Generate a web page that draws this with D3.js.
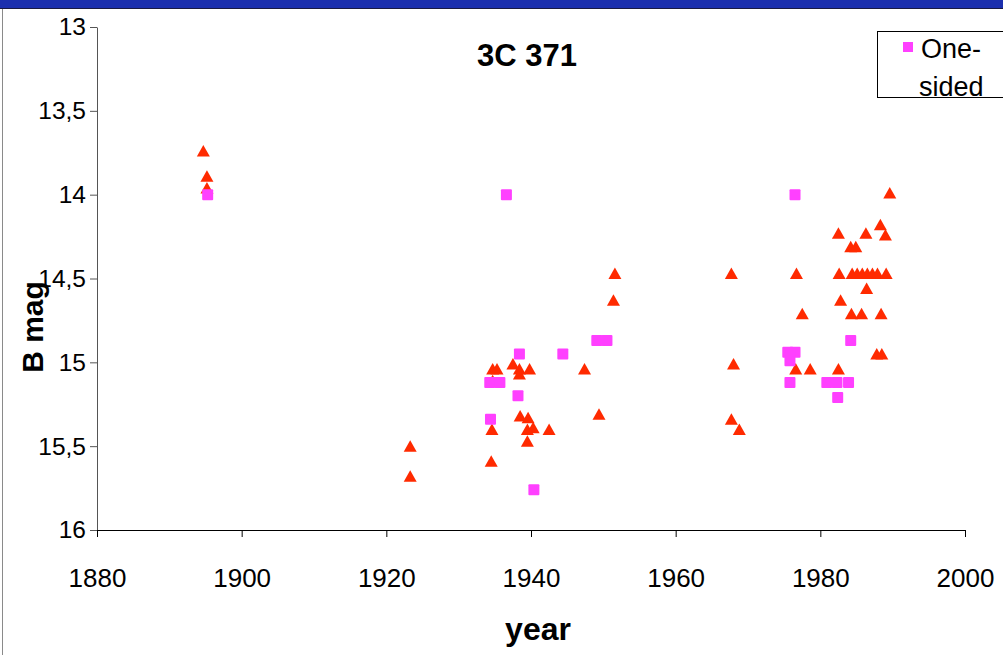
<!DOCTYPE html>
<html>
<head>
<meta charset="utf-8">
<script src="https://cdn.jsdelivr.net/npm/d3@7"></script>
<style>
    body { margin: 0; background: #fff; }
    text { font-family: "Liberation Sans", Arial, sans-serif; }
</style>
</head>
<body>
<div id="chart"></div>
<script>

// red triangles
let triYear = [1894.7, 1895.2, 1895.2, 1923.3, 1923.3, 1934.7, 1935.3, 1934.7, 1934.6, 1934.5,
    1937.5, 1938.4, 1938.4, 1939.8, 1938.5, 1939.6, 1940.3, 1939.5, 1942.5, 1939.5,
    1947.4, 1949.4, 1951.6, 1951.4, 1967.7, 1968.0, 1967.7, 1968.8, 1976.7, 1976.6,
    1977.5, 1978.6, 1982.5, 1982.6, 1982.8, 1982.5, 1984.2, 1984.9, 1984.3, 1985.7,
    1986.3, 1986.4, 1984.4, 1985.1, 1985.8, 1986.5, 1987.2, 1987.9, 1989.1, 1988.3,
    1989.0, 1988.4, 1987.8, 1988.5, 1989.6];
let triMag = [13.74, 13.89, 13.96, 15.50, 15.68, 15.04, 15.04, 15.11, 15.40, 15.59,
    15.01, 15.04, 15.07, 15.04, 15.32, 15.33, 15.39, 15.40, 15.40, 15.47,
    15.04, 15.31, 14.47, 14.63, 14.47, 15.01, 15.34, 15.40, 14.47, 15.04,
    14.71, 15.04, 14.23, 14.47, 14.63, 15.04, 14.31, 14.31, 14.71, 14.71,
    14.23, 14.56, 14.47, 14.47, 14.47, 14.47, 14.47, 14.47, 14.47, 14.18,
    14.24, 14.71, 14.95, 14.95, 13.99];

// magenta squares ("One-sided")
let sqYear = [1895.3, 1936.6, 1949.1, 1950.5, 1938.4, 1944.4, 1934.3, 1935.7, 1938.2, 1934.4,
    1940.4, 1976.5, 1975.5, 1976.5, 1975.8, 1975.8, 1980.9, 1982.3, 1983.9, 1982.4, 1984.2];
let sqMag = [14.0, 14.0, 14.87, 14.87, 14.95, 14.95, 15.12, 15.12, 15.20, 15.34,
    15.76, 14.0, 14.94, 14.94, 14.99, 15.12, 15.12, 15.12, 15.12, 15.21, 14.87];

let xTicks = [1880, 1900, 1920, 1940, 1960, 1980, 2000];
let yTicks = [13, 13.5, 14, 14.5, 15, 15.5, 16];

let legendLabel = ["One-", "sided"];


class ScatterVis {

    constructor(parentElement) {
        this.parentElement = parentElement;
        this.triData = triYear.map((d, i) => ({year: d, mag: triMag[i]}));
        this.sqData = sqYear.map((d, i) => ({year: d, mag: sqMag[i]}));
        this.initVis();
    }

    initVis() {
        let vis = this;

        vis.width = 1003;
        vis.height = 655;

        vis.svg = d3.select("#" + vis.parentElement).append("svg")
            .attr("width", vis.width)
            .attr("height", vis.height);

        // window frame
        vis.svg.append("rect")
            .attr("x", 0).attr("y", 0)
            .attr("width", vis.width).attr("height", 8)
            .attr("fill", "#1b2fae");
        vis.svg.append("line")
            .attr("x1", 0).attr("x2", vis.width)
            .attr("y1", 8.5).attr("y2", 8.5)
            .attr("stroke", "#1a1a40");
        vis.svg.append("line")
            .attr("x1", 2.5).attr("x2", 2.5)
            .attr("y1", 9).attr("y2", vis.height)
            .attr("stroke", "#8a8a8a");

        vis.xscale = d3.scaleLinear().domain([1880, 2000]).range([97, 965]);
        vis.yscale = d3.scaleLinear().domain([13, 16]).range([27, 530]);

        vis.xAxis = d3.axisBottom(vis.xscale)
            .tickValues(xTicks)
            .tickFormat(d3.format("d"))
            .tickSize(7)
            .tickSizeOuter(0)
            .tickPadding(32);

        vis.yAxis = d3.axisLeft(vis.yscale)
            .tickValues(yTicks)
            .tickFormat(d => String(d).replace(".", ","))
            .tickSize(7)
            .tickSizeOuter(0)
            .tickPadding(4);

        vis.yAxisGroup = vis.svg.append("g")
            .attr("class", "axis y-axis")
            .attr("transform", "translate(" + vis.xscale(1880) + ",0)")
            .call(vis.yAxis);

        vis.xAxisGroup = vis.svg.append("g")
            .attr("class", "axis x-axis")
            .attr("transform", "translate(0," + vis.yscale(16) + ")")
            .call(vis.xAxis);

        vis.yAxisGroup.selectAll("text").attr("font-size", 24.5);
        vis.xAxisGroup.selectAll("text").attr("font-size", 26);
        vis.svg.selectAll(".axis text")
            .attr("fill", "#000")
            .style("font-family", "'Liberation Sans', Arial, sans-serif");
        vis.yAxisGroup.selectAll("path, line").attr("stroke", "#555");
        vis.xAxisGroup.selectAll("path, line").attr("stroke", "#000");

        // titles
        vis.svg.append("text")
            .attr("x", 527).attr("y", 66)
            .attr("text-anchor", "middle")
            .attr("font-size", 31)
            .attr("font-weight", "bold")
            .text("3C 371");

        vis.svg.append("text")
            .attr("transform", "translate(43,327) rotate(-90)")
            .attr("text-anchor", "middle")
            .attr("font-size", 30)
            .attr("font-weight", "bold")
            .text("B mag");

        vis.svg.append("text")
            .attr("x", 538).attr("y", 640)
            .attr("text-anchor", "middle")
            .attr("font-size", 32)
            .attr("font-weight", "bold")
            .text("year");

        vis.updateVis();
        vis.drawLegend();
    }

    updateVis() {
        let vis = this;

        let tri = "M0,-6L6.5,5.5L-6.5,5.5Z";

        vis.svg.append("g").selectAll("path.tri")
            .data(vis.triData)
            .enter()
            .append("path")
            .attr("class", "tri")
            .attr("d", tri)
            .attr("fill", "#ff2a00")
            .attr("transform", d => "translate(" + vis.xscale(d.year) + "," + vis.yscale(d.mag) + ")");

        vis.svg.append("g").selectAll("rect.sq")
            .data(vis.sqData)
            .enter()
            .append("rect")
            .attr("class", "sq")
            .attr("x", d => vis.xscale(d.year) - 5.5)
            .attr("y", d => vis.yscale(d.mag) - 5.5)
            .attr("width", 11)
            .attr("height", 11)
            .attr("rx", 1)
            .attr("fill", "#ff40ff");
    }

    drawLegend() {
        let vis = this;

        let legend = vis.svg.append("g").attr("class", "legend");

        legend.append("rect")
            .attr("x", 877.5).attr("y", 31.5)
            .attr("width", 140).attr("height", 66)
            .attr("fill", "#fff");

        legend.append("rect")
            .attr("x", 903).attr("y", 42)
            .attr("width", 10).attr("height", 10)
            .attr("fill", "#ff40ff");

        legend.selectAll("text.lab")
            .data(legendLabel)
            .enter()
            .append("text")
            .attr("class", "lab")
            .attr("x", (d, i) => i === 0 ? 921 : 919)
            .attr("y", (d, i) => i === 0 ? 58 : 96)
            .attr("font-size", 27)
            .text(d => d);

        legend.append("rect")
            .attr("x", 877.5).attr("y", 31.5)
            .attr("width", 140).attr("height", 66)
            .attr("fill", "none")
            .attr("stroke", "#000");
    }
}

new ScatterVis("chart");

</script>
</body>
</html>
